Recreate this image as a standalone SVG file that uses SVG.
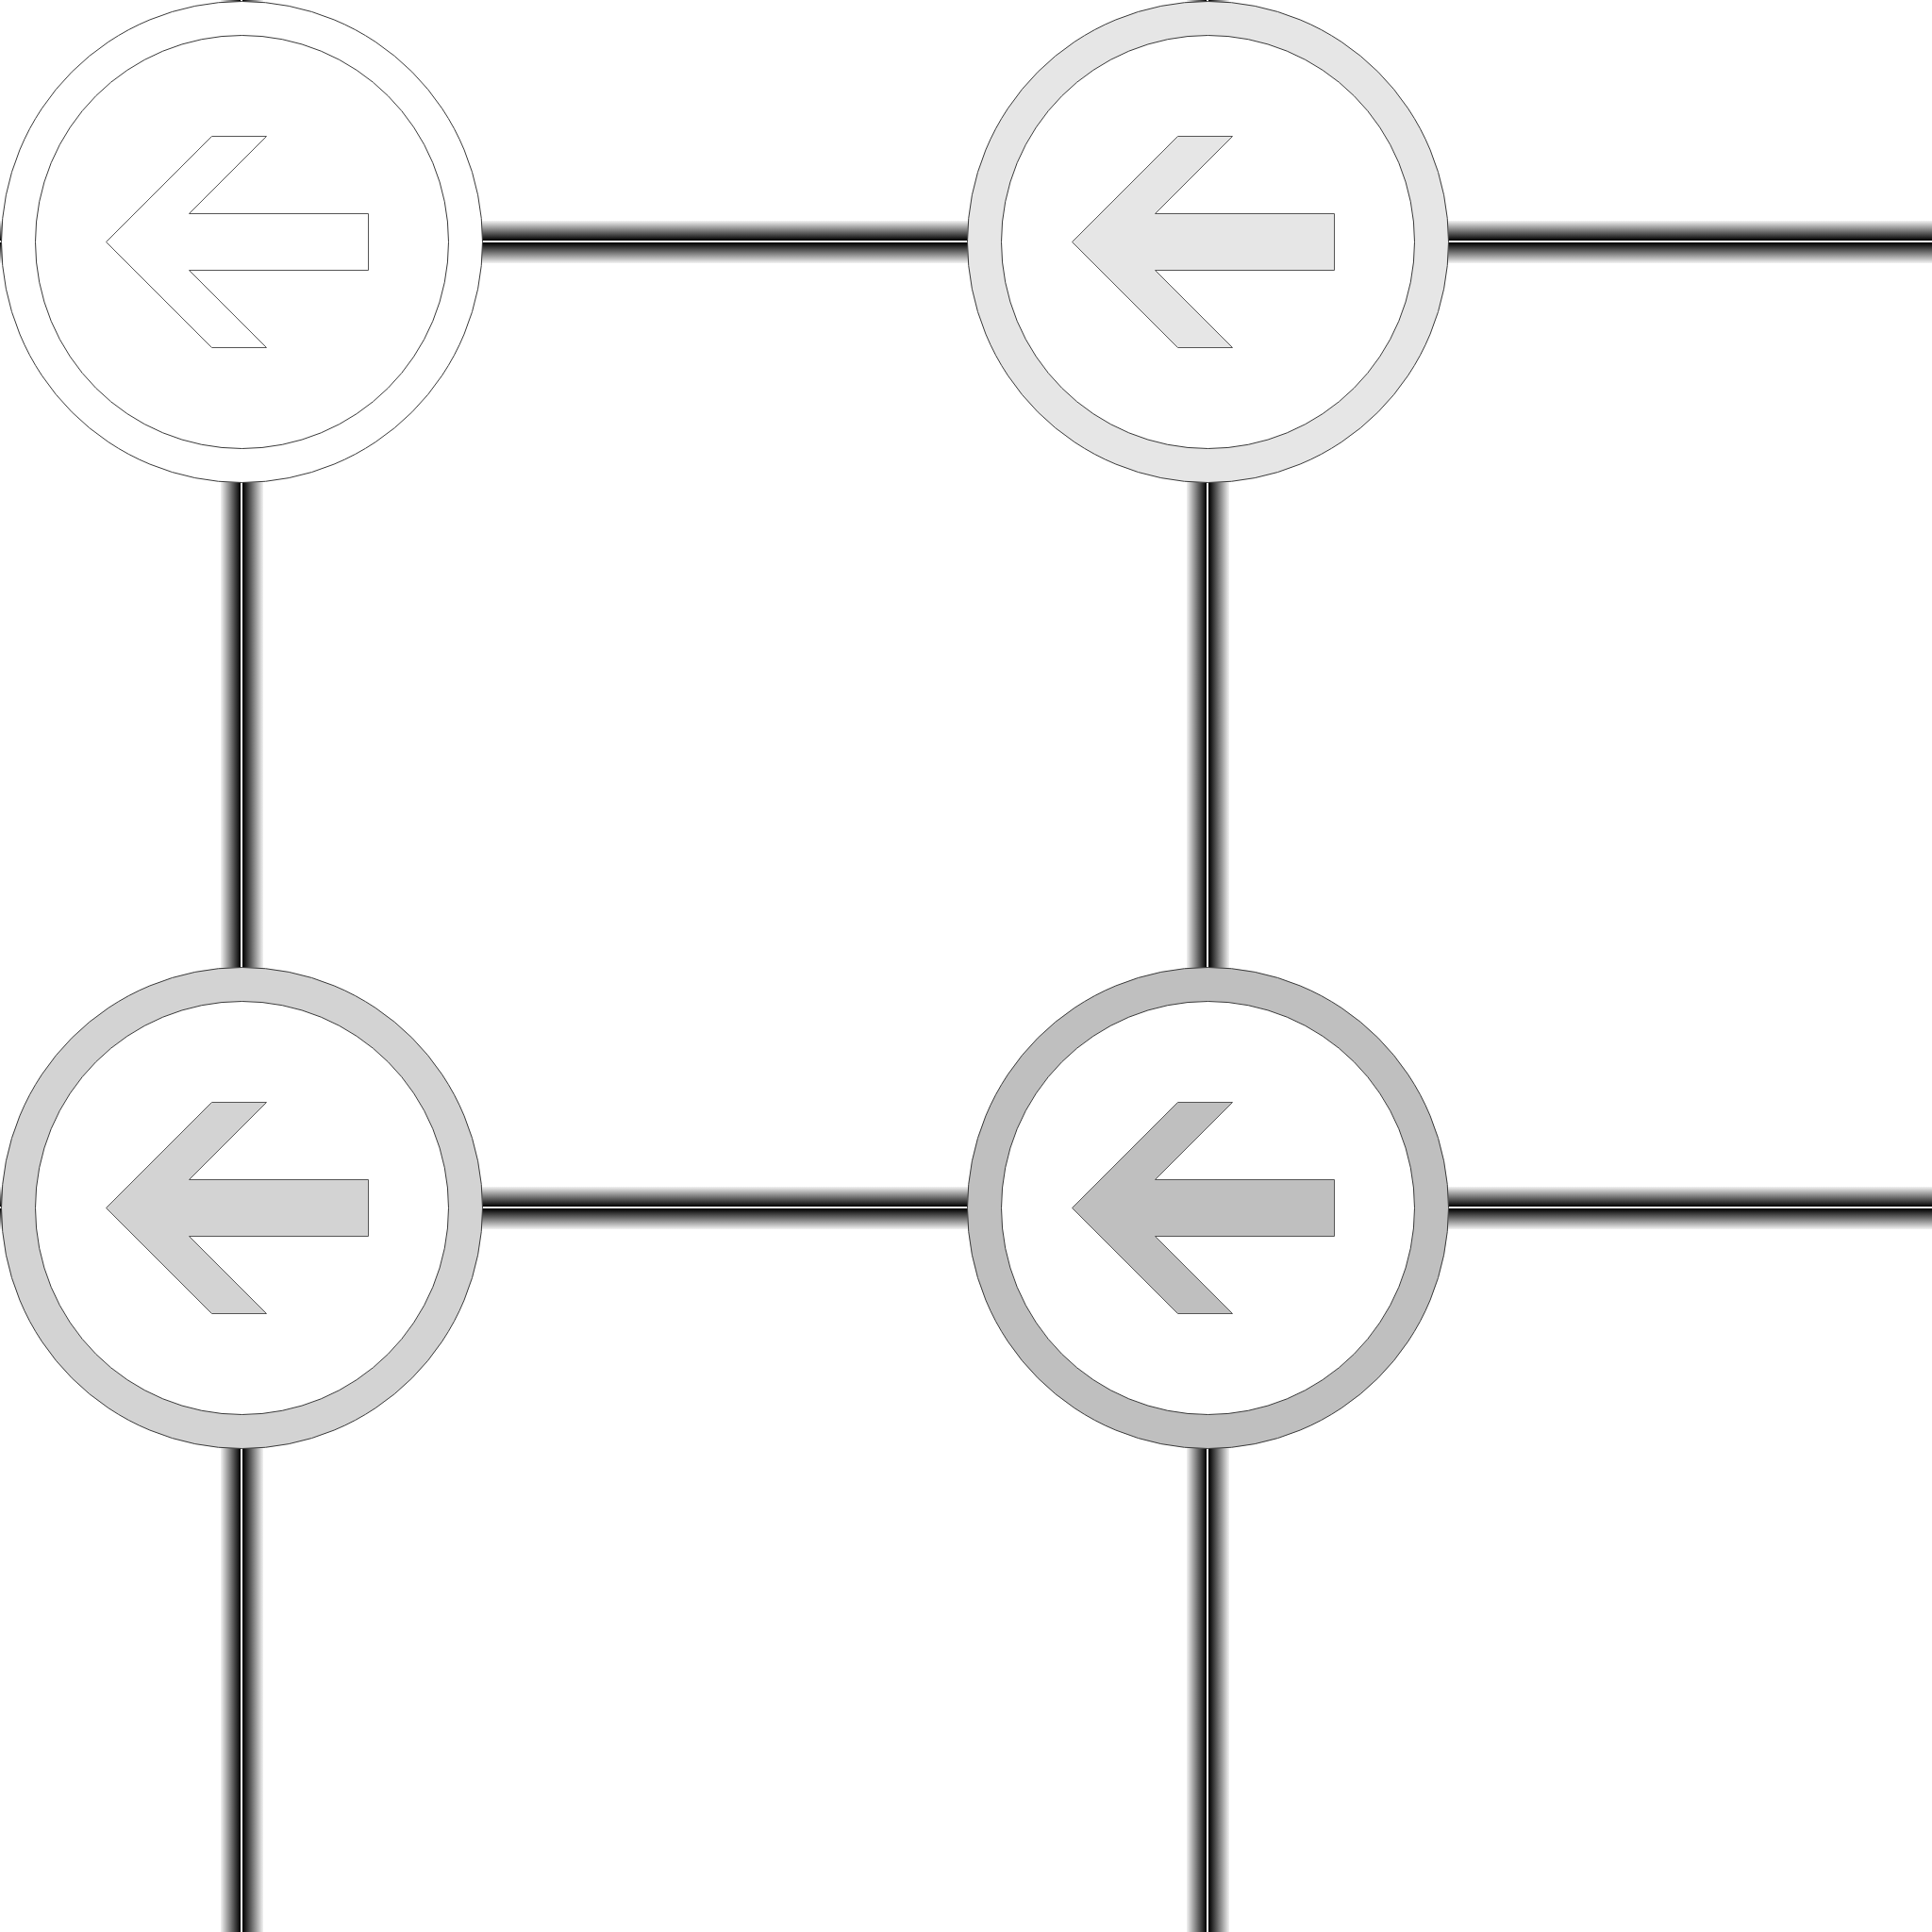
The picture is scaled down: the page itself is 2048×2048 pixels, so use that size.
<svg xmlns="http://www.w3.org/2000/svg" xmlns:xlink="http://www.w3.org/1999/xlink" width="2048" height="2048" viewBox="0 0 2048 2048">
  <style>
    .ring { stroke: #3a3a3a; stroke-width: 1; }
    .inner { fill: #ffffff; stroke: #3a3a3a; stroke-width: 1; }
    .arrow { stroke: #555555; stroke-width: 1; stroke-linejoin: miter; }
    .n1 { fill: #ffffff; }
    .n2 { fill: #e6e6e6; }
    .n3 { fill: #d3d3d3; }
    .n4 { fill: #bfbfbf; }
  </style>
  <defs>
    <linearGradient id="tubeH" x1="0" y1="0" x2="0" y2="1">
      <stop offset="0" stop-color="#f2f2f2"/>
      <stop offset="0.465" stop-color="#000000"/>
      <stop offset="0.47" stop-color="#ffffff"/>
      <stop offset="0.515" stop-color="#ffffff"/>
      <stop offset="0.52" stop-color="#000000"/>
      <stop offset="1" stop-color="#f2f2f2"/>
    </linearGradient>
    <linearGradient id="tubeV" x1="0" y1="0" x2="1" y2="0">
      <stop offset="0" stop-color="#f2f2f2"/>
      <stop offset="0.465" stop-color="#000000"/>
      <stop offset="0.47" stop-color="#ffffff"/>
      <stop offset="0.515" stop-color="#ffffff"/>
      <stop offset="0.52" stop-color="#000000"/>
      <stop offset="1" stop-color="#f2f2f2"/>
    </linearGradient>
    <polygon id="arrowShape" points="-144,0 -32,-112 26,-112 -56,-30 134,-30 134,30 -56,30 26,112 -32,112"/>
  </defs>
  <rect x="0" y="0" width="2048" height="2048" fill="#ffffff"/>
  <g id="connectors">
    <rect x="0" y="234" width="2048" height="45" fill="url(#tubeH)"/>
    <rect x="0" y="1258" width="2048" height="45" fill="url(#tubeH)"/>
    <rect x="234" y="0" width="45" height="2048" fill="url(#tubeV)"/>
    <rect x="1258" y="0" width="45" height="2048" fill="url(#tubeV)"/>
  </g>
  <g id="node1" transform="translate(256.5,256.5)">
    <circle class="ring n1" r="255"/>
    <circle class="inner" r="219"/>
    <use xlink:href="#arrowShape" class="arrow n1"/>
  </g>
  <g id="node2" transform="translate(1280.5,256.5)">
    <circle class="ring n2" r="255"/>
    <circle class="inner" r="219"/>
    <use xlink:href="#arrowShape" class="arrow n2"/>
  </g>
  <g id="node3" transform="translate(256.5,1280.5)">
    <circle class="ring n3" r="255"/>
    <circle class="inner" r="219"/>
    <use xlink:href="#arrowShape" class="arrow n3"/>
  </g>
  <g id="node4" transform="translate(1280.5,1280.5)">
    <circle class="ring n4" r="255"/>
    <circle class="inner" r="219"/>
    <use xlink:href="#arrowShape" class="arrow n4"/>
  </g>
</svg>
